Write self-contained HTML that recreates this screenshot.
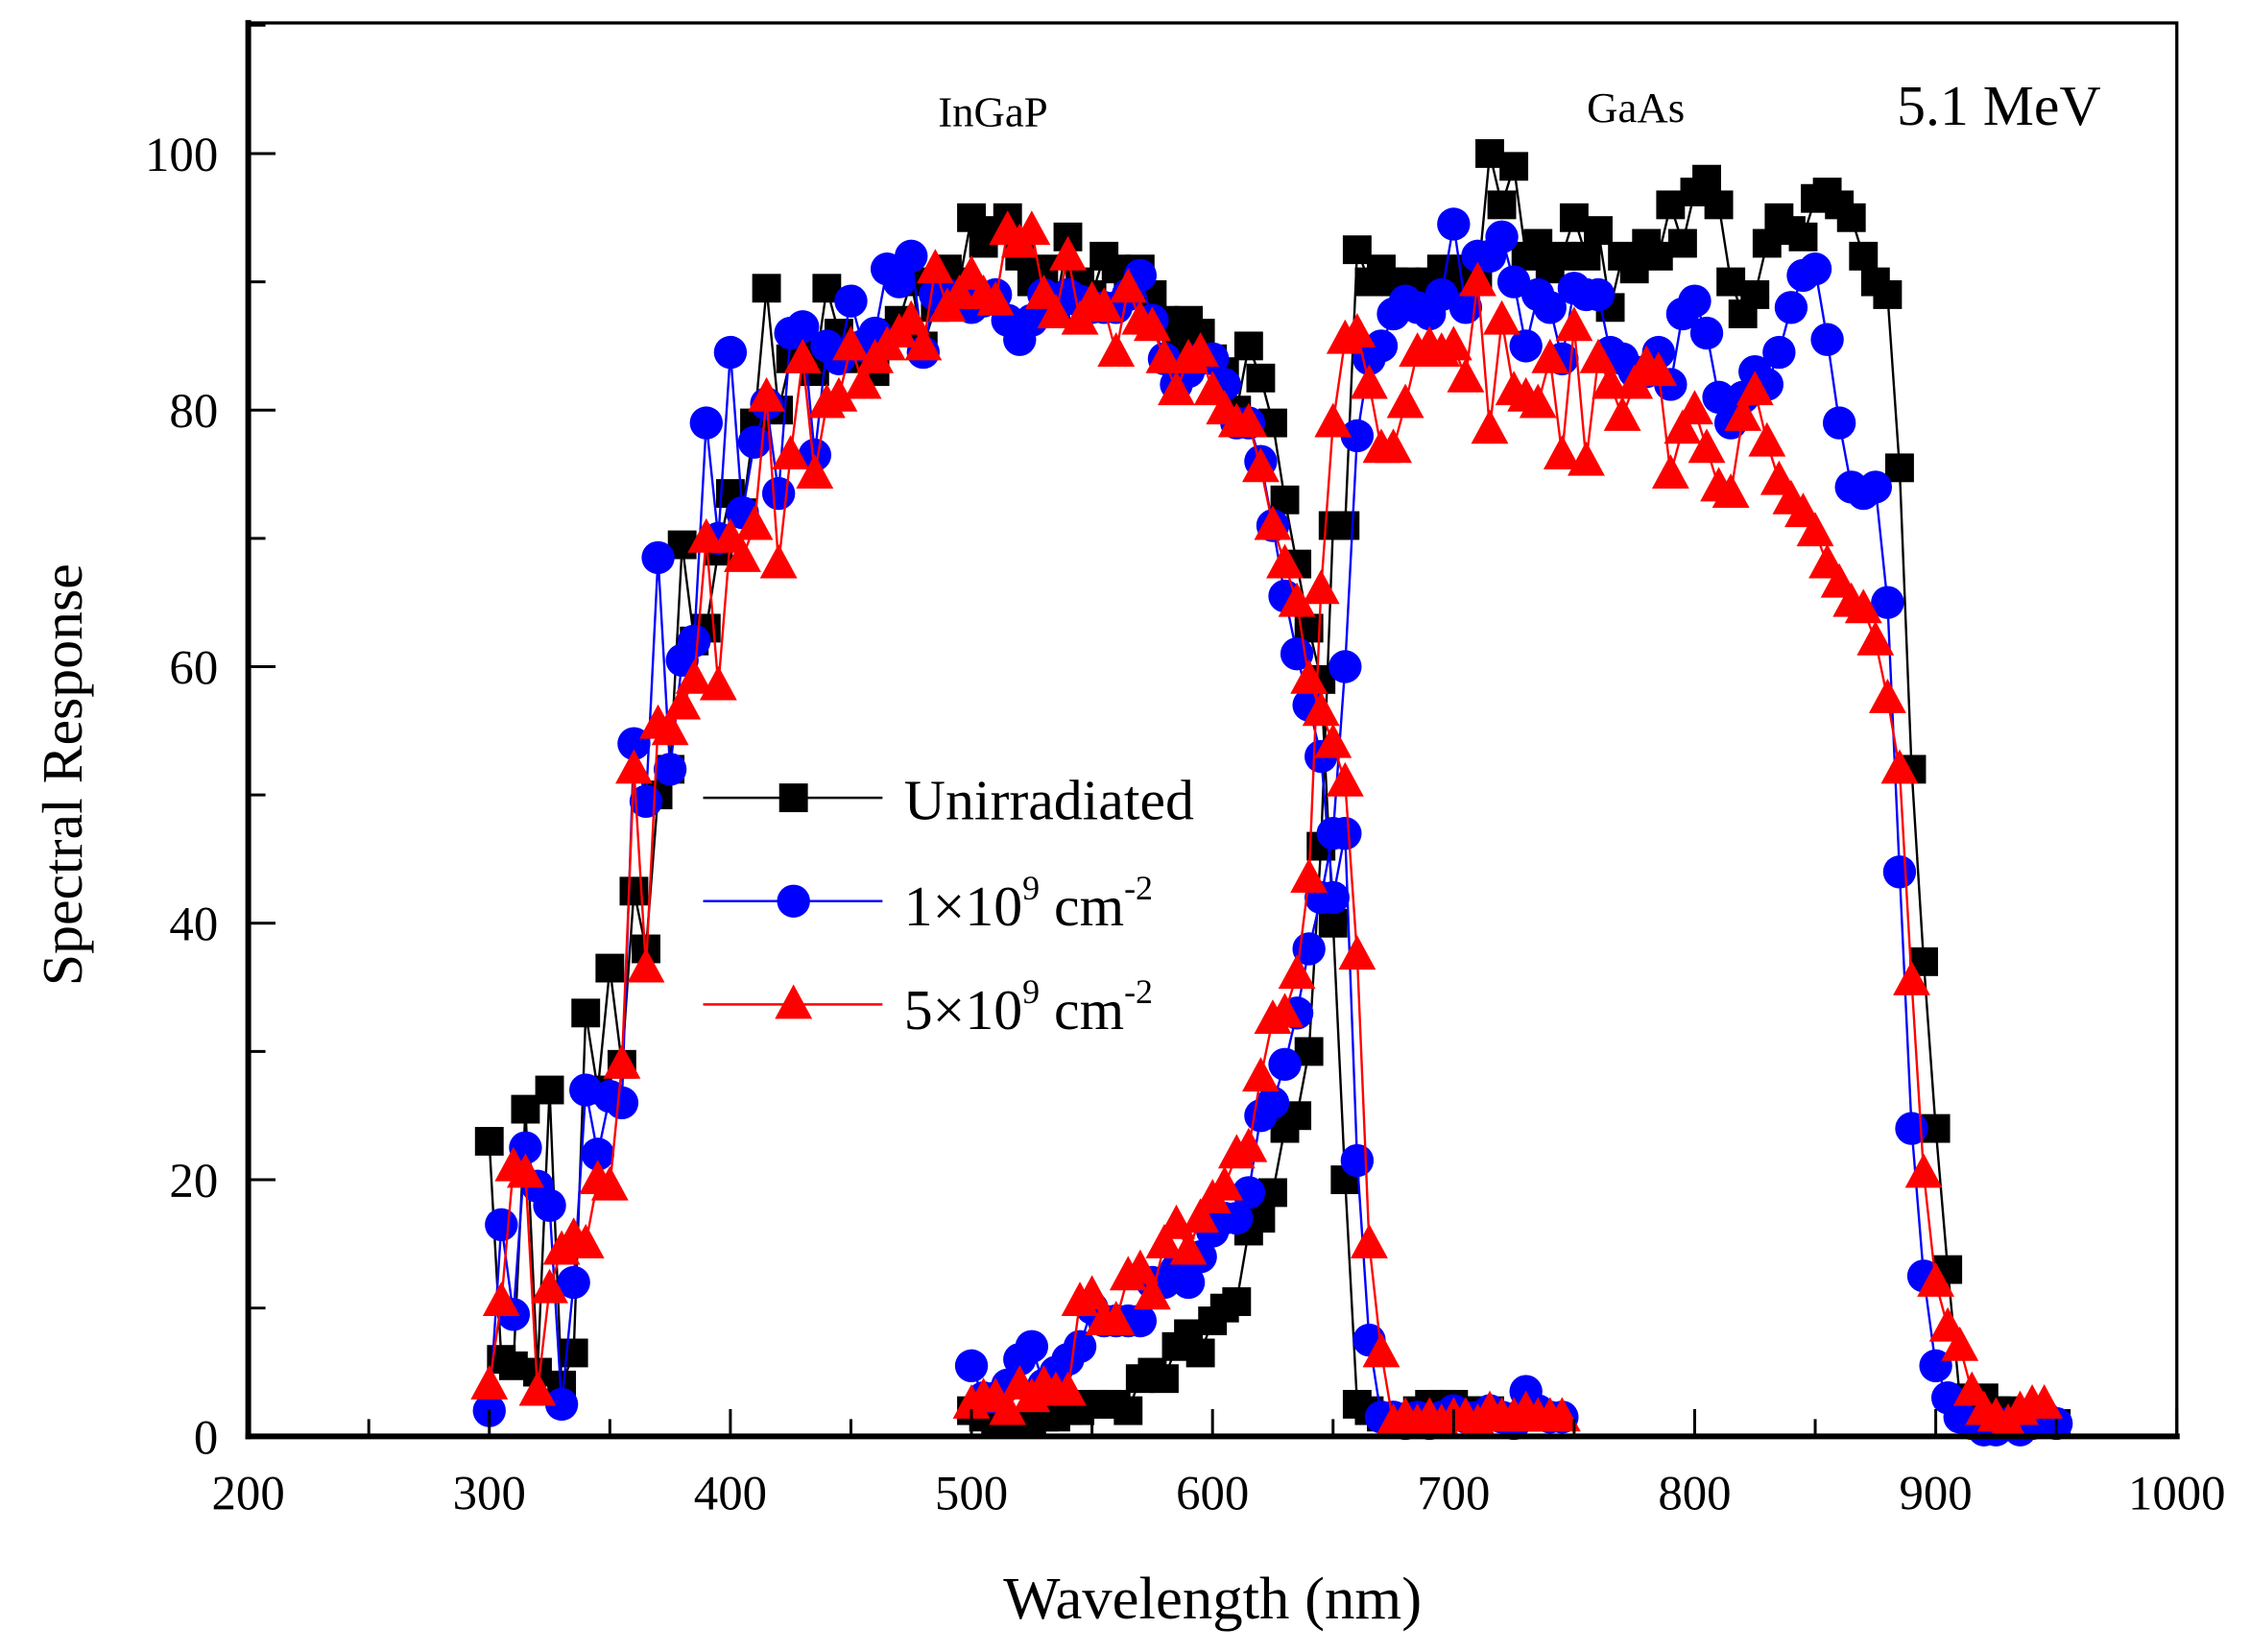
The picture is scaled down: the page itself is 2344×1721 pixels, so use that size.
<!DOCTYPE html>
<html><head><meta charset="utf-8"><style>
html,body{margin:0;padding:0;background:#fff;}
svg{display:block;}
text{font-family:"Liberation Serif",serif;fill:#000;}
</style></head><body>
<svg id="s" width="2344" height="1721" viewBox="0 0 1568 1151.3" preserveAspectRatio="none" xmlns="http://www.w3.org/2000/svg">
<rect width="1568" height="1152" fill="#fff"/>
<g id="data"></g>
<rect x="173" y="16" width="1344" height="985" fill="none" stroke="#000" stroke-width="2.2"/>
<line x1="173" y1="14" x2="173" y2="1003" stroke="#000" stroke-width="4"/>
<line x1="171" y1="1001" x2="1519" y2="1001" stroke="#000" stroke-width="4"/>
<g id="ticks" stroke="#000" stroke-width="2"></g>
<g font-size="34" text-anchor="middle" id="xl"></g>
<g font-size="34" text-anchor="end" id="yl"></g>
<text x="692" y="88" font-size="30" text-anchor="middle">InGaP</text>
<text x="1140" y="85" font-size="30" text-anchor="middle">GaAs</text>
<text x="1393" y="87" font-size="40" text-anchor="middle">5.1 MeV</text>
<text x="845" y="1128" font-size="42" text-anchor="middle">Wavelength (nm)</text>
<text transform="translate(57,540) rotate(-90)" font-size="40" text-anchor="middle">Spectral Response</text>
<g id="leg"></g>
<text x="630" y="571" font-size="40">Unirradiated</text>
<text x="630" y="645" font-size="40">1×10<tspan font-size="24" dy="-18">9</tspan><tspan dy="18"> cm</tspan><tspan font-size="24" dy="-18">-2</tspan></text>
<text x="630" y="717" font-size="40">5×10<tspan font-size="24" dy="-18">9</tspan><tspan dy="18"> cm</tspan><tspan font-size="24" dy="-18">-2</tspan></text>
</svg>
<script>
var NS="http://www.w3.org/2000/svg";
function X(n){return 173+(n-200)*1.68;}
function Y(v){return 1001-v*8.94;}
function el(p,t,a){var e=document.createElementNS(NS,t);for(var k in a)e.setAttribute(k,a[k]);p.appendChild(e);return e;}
function arr(start,step,vals){return vals.map(function(v,i){return [start+i*step,v];});}
var K1=arr(300,5,[23,6,5.5,25.5,5,27,4,6.5,33,27,36.5,29,42.5,38,50,52,69.5,62,63,69,73.5,72,79,89.5,80,84,85,83,89.5,86,84,85,83,86,87,90,85,88,91,90,95,93,94,95,92,90,91,88,93.5,90,89,92,91,90,91,89,87,85,87,86,84,83,80,85,82.5,79,73,68,63,59,40,20,2.5,2,1.5,1.5,1.5,2,2.5,2.5,2.5,2,2,2,1.5,1.5,1.5,1.5]);
var K2=arr(500,5,[2,1.5,1,1,1,1,1.5,1.5,2,2,2.5,2.5,2.5,2,4.5,5,4.5,7,8,6.5,9,10,10.5,16,17,19,24,25,30,46,71,71,92.5,90,91,90,90,89,90,91,89,91,90,100,96,99,92,93,91,92,95,92,94,88,92,91,93,92,96,93,97,98,96,90,87.5,89,93,95,94,93.5,96.5,97,96,95,92,90,89,75.5,52,37,24,13,3,2,3,2,2,1,1,1,1]);
var B1=arr(300,5,[2,16.5,9.5,22.5,19.5,18,2.5,12,27,22,26.5,26,54,49.5,68.5,52,60.5,62,79,70,84.5,72,77.5,80.5,73.5,86,86.5,76.5,85,84,88.5,85,86,91,90,92,84.5,89,89,88.5,88,88.5,89,87,85.5,87,89,88,89,88.5,88,88,88,89,90.5,87,84,82,83,84,84,82,79,79,76,71,65.5,61,57,53,42,47,21.5,7.5,1.5,1.5,1,1.5,1,1.5,2,1.5,1.5,2,1.5,1,3.5,2,1.5,1.5]);
var B2=arr(500,5,[5.5,3,3,4,6,7,4,5,6,7,10,9,9,9,9,12,12,13,12,14,16,17,17,19,25,26,29,33,38,42,47,60,78,84,85,87.5,88.5,88,87.5,89,94.5,88,92,92,93.5,90,85,89,88,84,89.5,89,89,84.5,84,83,83,84.5,82,87.5,88.5,86,81,79,81,83,82,84.5,88,90.5,91,85.5,79,74,73.5,74,65,44,24,12.5,5.5,3,1.5,1,0.5,0.5,1,0.5,1,1.5,1]);
var R1=arr(300,5,[4,10.5,21,20.5,3.5,11.5,14.5,15.5,15,20,19.5,29,52,36.5,55.5,55,57,59,70,58.5,70,68.5,71,81,68,76.5,84,75,80.5,81,85,82,84,85,86,87,85,91,88,89,90.5,89,88.5,94,93,94,89,87.5,92,87,88.5,88,84.5,89.5,87,86.5,84,81.5,84,84.5,81.5,80,79,79,75.5,71,68,65,59,56.5,54,51,37.5,15,6.5,1,1.5,1,1.5,1,1.5,1.5,1,2,1.5,1.5,2,1.5,1.5,1.5]);
var R2=arr(500,5,[2.5,3,3,2,4,3,4,3.5,3.5,10.5,11,9,9,12.5,13,11,15,16.5,14.5,17,18.5,19.5,22,22.5,28,32.5,33,36,43.5,66,79,85.5,86,82,77,77,80.5,84.5,85,84.5,85,82.5,90,78.5,87,81.5,81,80.5,84,76.5,86.5,76,84,82,79.5,82,83.5,83,75,78.5,80,77,74,73.5,79.5,81.5,77.5,74.5,73,72,70.5,68,66.5,65,64.5,62,57.5,52,35.5,20.5,12,8.5,7,3.5,2,1.5,1,2,2.5,2.5]);
var g=document.getElementById('data');
function series(d,col){
  var pts=d.map(function(p){return X(p[0]).toFixed(1)+','+Y(p[1]).toFixed(1);}).join(' ');
  el(g,'polyline',{points:pts,fill:'none',stroke:col,'stroke-width':1.6});
}
function marker(p,x,y,col,mk){
  if(mk=='s')el(p,'rect',{x:x-10,y:y-10,width:20,height:20,fill:col});
  else if(mk=='c')el(p,'circle',{cx:x,cy:y,r:11.5,fill:col});
  else el(p,'polygon',{points:(x-13)+','+(y+10)+' '+(x+13)+','+(y+10)+' '+x+','+(y-14),fill:col});
}
function marks(d,col,mk){d.forEach(function(q){marker(g,X(q[0]),Y(q[1]),col,mk);});}
series(K1,'#000');series(K2,'#000');marks(K1,'#000','s');marks(K2,'#000','s');
series(B1,'#00f');series(B2,'#00f');marks(B1,'#00f','c');marks(B2,'#00f','c');
series(R1,'#f00');series(R2,'#f00');marks(R1,'#f00','t');marks(R2,'#f00','t');
var t=document.getElementById('ticks'),xl=document.getElementById('xl'),yl=document.getElementById('yl');
for(var n=200;n<=1000;n+=50){var maj=n%100==0;el(t,'line',{x1:X(n),y1:1001,x2:X(n),y2:1001-(maj?19:12)});
 if(maj){var e=el(xl,'text',{x:X(n),y:1052});e.textContent=n;}}
for(var v=0;v<=110;v+=10){var maj=v%20==0;el(t,'line',{x1:173,y1:Y(v),x2:173+(maj?19:12),y2:Y(v)});
 if(maj){var e=el(yl,'text',{x:152,y:Y(v)+12});e.textContent=v;}}
var lg=document.getElementById('leg');
[[556,'#000','s'],[628,'#00f','c'],[700,'#f00','t']].forEach(function(a){
 el(lg,'line',{x1:490,y1:a[0],x2:615,y2:a[0],stroke:a[1],'stroke-width':1.6});
 marker(lg,553,a[0],a[1],a[2]);});
</script>
</body></html>
